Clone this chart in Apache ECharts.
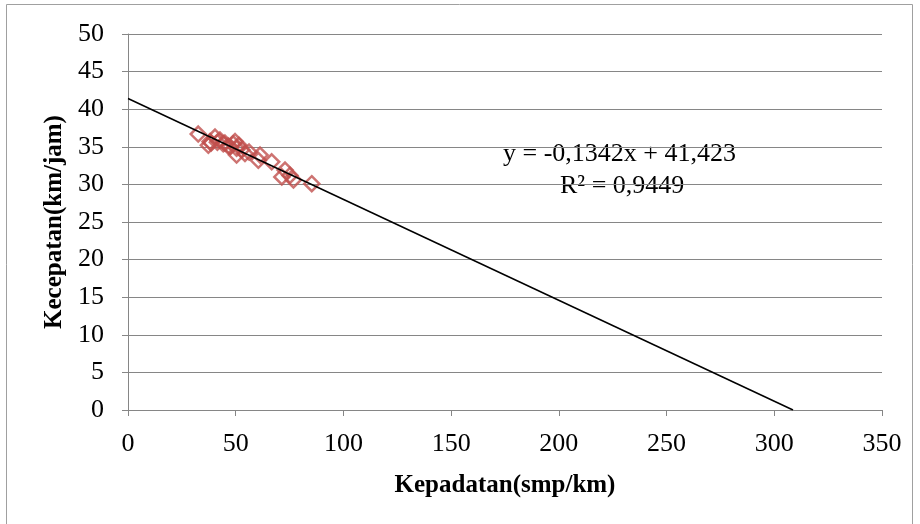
<!DOCTYPE html>
<html>
<head>
<meta charset="utf-8">
<script src="https://cdn.jsdelivr.net/npm/echarts@6/dist/echarts.min.js"></script>
<style>
html,body{margin:0;padding:0;background:#fff;}
#main{width:920px;height:524px;}
</style>
</head>
<body>
<div id="main"></div>
<script>
// data pengamatan: kepadatan (smp/km) vs kecepatan (km/jam)
var kepadatan = [32.6, 37.3, 38.1, 38.6, 40.4, 41.5, 42.7, 44.2, 45.0, 46.5, 47.4, 48.8, 49.7, 50.4, 50.4, 51.5, 52.8, 54.3, 56.2, 60.5, 61.3, 66.7, 71.4, 72.9, 75.2, 76.8, 85.3];
var kecepatan = [36.7, 35.2, 35.7, 35.5, 36.3, 35.6, 35.9, 35.4, 35.5, 35.1, 35.0, 35.4, 35.7, 34.8, 33.9, 35.2, 34.6, 34.1, 34.3, 33.2, 33.9, 33.0, 31.0, 31.9, 31.2, 30.6, 30.1];
// garis trend (linear)
var trendX = [0, 308.7];
var trendY = [41.423, 0];
var persamaan = 'y = -0,1342x + 41,423';
var rKuadrat = 'R² = 0,9449';

var titik = [];
for (var i = 0; i < kepadatan.length; i++) {
	titik.push([kepadatan[i], kecepatan[i]]);
}
var trend = [];
for (var j = 0; j < trendX.length; j++) {
	trend.push([trendX[j], trendY[j]]);
}

var font = 'Liberation Serif, Times New Roman, serif';

option = {
	animation: false,
	backgroundColor: '#fff',
	grid: {
		left: 128,
		right: 38,
		top: 34,
		bottom: 114
	},
	graphic: [
		{
			type: 'rect',
			shape: { x: 6.5, y: 4.5, width: 906, height: 522 },
			style: { fill: 'none', stroke: '#a0a0a0', lineWidth: 1 },
			silent: true
		},
		{
			type: 'text',
			left: 503,
			top: 141,
			style: { text: persamaan, font: '26px ' + font, fill: '#000' }
		},
		{
			type: 'text',
			left: 560,
			top: 173,
			style: { text: rKuadrat, font: '26px ' + font, fill: '#000' }
		}
	],
	xAxis: {
		type: 'value',
		min: 0,
		max: 350,
		interval: 50,
		name: 'Kepadatan(smp/km)',
		nameLocation: 'middle',
		nameGap: 63,
		nameTextStyle: { fontFamily: font, fontSize: 25, fontWeight: 'bold', color: '#000' },
		axisLine: { show: true, lineStyle: { color: '#868686', width: 1 } },
		axisTick: { show: true, length: 6, lineStyle: { color: '#868686' } },
		axisLabel: { fontFamily: font, fontSize: 26, color: '#000', margin: 21 },
		splitLine: { show: false }
	},
	yAxis: {
		type: 'value',
		min: 0,
		max: 50,
		interval: 5,
		name: 'Kecepatan(km/jam)',
		nameLocation: 'middle',
		nameGap: 57,
		nameTextStyle: { fontFamily: font, fontSize: 25, fontWeight: 'bold', color: '#000' },
		axisLine: { show: true, lineStyle: { color: '#868686', width: 1 } },
		axisTick: { show: true, length: 6, lineStyle: { color: '#868686' } },
		axisLabel: { fontFamily: font, fontSize: 26, color: '#000', margin: 24 },
		splitLine: { show: true, lineStyle: { color: '#868686', width: 1 } }
	},
	series: [
		{
			name: 'trend',
			type: 'line',
			data: trend,
			symbol: 'none',
			lineStyle: { color: '#000', width: 1.5 },
			z: 3
		},
		{
			name: 'data',
			type: 'scatter',
			data: titik,
			symbol: 'diamond',
			symbolSize: 15,
			itemStyle: { color: 'rgba(0,0,0,0)', borderColor: '#C0504D', borderWidth: 2.5 },
			z: 2
		}
	]
};
var myChart = echarts.init(document.getElementById('main'));
myChart.setOption(option);
</script>
</body>
</html>
